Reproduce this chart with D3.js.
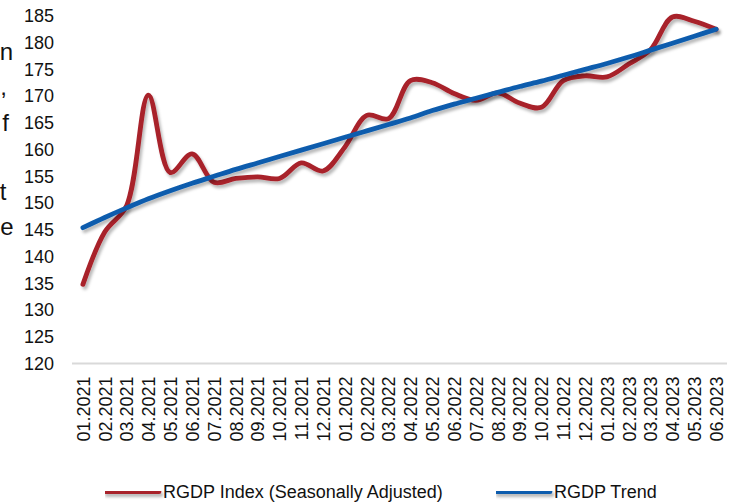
<!DOCTYPE html>
<meta charset="utf-8">
<html>
<head>
<title>RGDP</title>
<script src="https://d3js.org/d3.v7.min.js"></script>
<style>
  body { margin: 0; background: #fff; }
  text { font-family: "Liberation Sans", Arial, sans-serif; fill: #111; }
</style>
</head>
<body>
<div id="chart"></div>
<script>

// months on the x axis
var months = ["01.2021","02.2021","03.2021","04.2021","05.2021","06.2021","07.2021","08.2021","09.2021","10.2021","11.2021","12.2021",
              "01.2022","02.2022","03.2022","04.2022","05.2022","06.2022","07.2022","08.2022","09.2022","10.2022","11.2022","12.2022",
              "01.2023","02.2023","03.2023","04.2023","05.2023","06.2023"];

// RGDP Index (Seasonally Adjusted)
var rgdpIndex = [134.8, 144.6, 149.5, 170.2, 155.7, 159.2, 153.9, 154.6, 154.9, 154.6, 157.5, 156.0,
                 160.5, 166.4, 165.8, 172.9, 172.5, 170.5, 169.2, 170.6, 168.7, 167.9, 172.9, 173.8,
                 173.6, 176.0, 178.7, 184.8, 184.0, 182.5];

// RGDP Trend
var rgdpTrend = [145.4, 147.3, 149.1, 150.8, 152.3, 153.7, 155.0, 156.3, 157.5, 158.7, 159.9, 161.1,
                 162.3, 163.5, 164.7, 165.9, 167.3, 168.5, 169.6, 170.7, 171.8, 172.8, 173.9, 175.0,
                 176.1, 177.3, 178.6, 179.9, 181.2, 182.5];

var yTicks = [120, 125, 130, 135, 140, 145, 150, 155, 160, 165, 170, 175, 180, 185];

var seriesNames = ["RGDP Index (Seasonally Adjusted)", "RGDP Trend"];
var seriesColors = ["#a8202a", "#0b5cad"];

// bits of the surrounding page text that show at the left edge
var edgeText = ["n", ",", "f", "t", "e"];

var W = 733, H = 504;
var margin = {top: 15.9, right: 6, bottom: 140.5, left: 72};

var svg = d3.select("#chart").append("svg")
    .attr("width", W)
    .attr("height", H);

// drop shadow like the office chart
var defs = svg.append("defs");
defs.append("filter")
    .attr("id", "shadow")
    .attr("filterUnits", "userSpaceOnUse")
    .attr("x", 0).attr("y", 0).attr("width", W).attr("height", H)
  .append("feDropShadow")
    .attr("dx", 2).attr("dy", 3).attr("stdDeviation", 1.6)
    .attr("flood-color", "#000").attr("flood-opacity", 0.28);

var x = d3.scalePoint()
    .domain(months)
    .range([margin.left, W - margin.right])
    .padding(0.5);

var y = d3.scaleLinear()
    .domain([120, 185])
    .range([H - margin.bottom, margin.top]);

// left edge text fragments
var edgeX = [13, 7, 9, 6.5, 13.5];
var edgeY = [60, 95, 131, 200, 235];
svg.selectAll(".edge")
  .data(edgeText)
  .enter().append("text")
    .attr("class", "edge")
    .attr("x", function(d, i) { return edgeX[i]; })
    .attr("y", function(d, i) { return edgeY[i]; })
    .attr("text-anchor", "end")
    .style("font-size", "24px")
    .text(function(d) { return d; });

// y axis labels (no line, no ticks)
var yAxis = svg.append("g")
    .attr("transform", "translate(" + (margin.left - 6) + ",0)")
    .call(d3.axisLeft(y).tickValues(yTicks).tickSize(0).tickPadding(12));
yAxis.select(".domain").remove();
yAxis.selectAll("text")
    .style("font-size", "18px")
    .style("font-family", "'Liberation Sans', Arial, sans-serif")
    .attr("fill", "#111");

// x axis
var xAxis = svg.append("g")
    .attr("transform", "translate(0," + (H - margin.bottom) + ")")
    .call(d3.axisBottom(x).tickSize(0).tickPadding(0));
xAxis.select(".domain")
    .attr("stroke", "#d9d9d9")
    .attr("stroke-width", 2.2)
    .attr("d", "M" + margin.left + ",0H" + (W - margin.right));
xAxis.selectAll("text")
    .style("font-size", "18px")
    .style("font-family", "'Liberation Sans', Arial, sans-serif")
    .attr("fill", "#111")
    .attr("text-anchor", "end")
    .attr("dy", "0.35em")
    .attr("transform", "translate(0,13) rotate(-90)")
    .attr("y", 0)
    .attr("x", 0);

var line = d3.line()
    .x(function(d, i) { return x(months[i]); })
    .y(function(d) { return y(d); })
    .curve(d3.curveCatmullRom.alpha(0.5));

var allSeries = [rgdpIndex, rgdpTrend];
svg.selectAll(".series")
  .data(allSeries)
  .enter().append("path")
    .attr("class", "series")
    .attr("d", line)
    .attr("fill", "none")
    .attr("stroke", function(d, i) { return seriesColors[i]; })
    .attr("stroke-width", 4.8)
    .attr("stroke-linecap", "round")
    .attr("stroke-linejoin", "round")
    .attr("filter", "url(#shadow)");

// legend
var legendX = [105, 496];
var legendY = 491.7;
var lg = svg.selectAll(".legend")
  .data(seriesNames)
  .enter().append("g")
    .attr("class", "legend")
    .attr("transform", function(d, i) { return "translate(" + legendX[i] + "," + legendY + ")"; });
lg.append("path")
    .attr("d", "M0,0H54")
    .attr("stroke", function(d, i) { return seriesColors[i]; })
    .attr("stroke-width", 4.8)
    .attr("stroke-linecap", "round")
    .attr("filter", "url(#shadow)");
lg.append("text")
    .attr("x", 58)
    .attr("dy", "0.35em")
    .style("font-size", "18px")
    .text(function(d) { return d; });

</script>
</body>
</html>
